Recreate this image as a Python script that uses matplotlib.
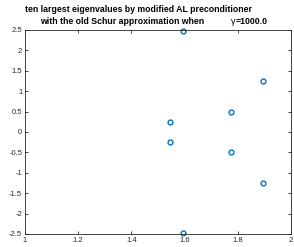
import matplotlib.pyplot as plt
import numpy as np

plt.rcParams['font.family'] = ['Liberation Sans', 'DejaVu Sans']

re_part = [1.595, 1.595, 1.546, 1.546, 1.773, 1.773, 1.896, 1.896]
im_part = [2.47, -2.47, 0.25, -0.25, 0.50, -0.50, 1.24, -1.24]

xticks = [1, 1.2, 1.4, 1.6, 1.8, 2]
yticks = [-2.5, -2, -1.5, -1, -0.5, 0, 0.5, 1, 1.5, 2, 2.5]

fig = plt.figure(figsize=(2.94, 2.47), dpi=100)
ax = fig.add_axes([25 / 294, 1 - 234 / 247, 266 / 294, 204 / 247])

ax.plot(re_part, im_part, 'o', markerfacecolor='none', markeredgecolor='#0072BD',
        markersize=3.5, markeredgewidth=1.0, clip_on=False)

ax.set_xlim(1, 2)
ax.set_ylim(-2.5, 2.5)
ax.set_xticks(xticks)
ax.set_xticklabels(['1', '1.2', '1.4', '1.6', '1.8', '2'])
ax.set_yticks(yticks)
ax.set_yticklabels(['-2.5', '-2', '-1.5', '-1', '-0.5', '0', '0.5', '1', '1.5', '2', '2.5'])
ax.tick_params(direction='in', length=2.5, width=0.6, labelsize=5.5, top=True, right=True,
               pad=2, colors='#262626')
for s in ax.spines.values():
    s.set_linewidth(0.6)
    s.set_color('#262626')

fig.text(25 / 294, 1 - 10 / 247, 'ten largest eigenvalues by modified AL preconditioner',
         ha='left', va='center', fontsize=6.3, fontweight='bold')
fig.text(40 / 294, 1 - 21 / 247, 'with the old Schur approximation when',
         ha='left', va='center', fontsize=6.3, fontweight='bold')
fig.text(231 / 294, 1 - 21 / 247, 'γ',
         ha='left', va='center', fontsize=6.3)
fig.text(236 / 294, 1 - 21 / 247, '=1000.0',
         ha='left', va='center', fontsize=6.3, fontweight='bold')

fig.savefig('out.png', dpi=100)
